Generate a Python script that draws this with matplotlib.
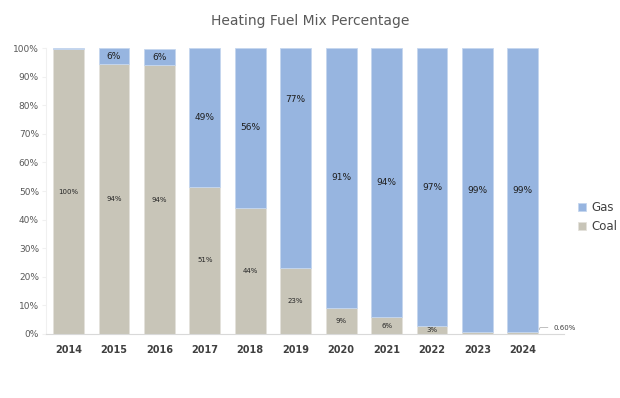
import matplotlib.pyplot as plt
import numpy as np

# Data
years = ['2014', '2015', '2016', '2017', '2018', '2019', '2020', '2021', '2022', '2023', '2024']
coal = [99.6, 94.3, 94.0, 51.4, 44.2, 23.0, 9.2, 5.8, 2.8, 0.6, 0.6]
gas = [0.4, 5.7, 5.8, 48.6, 55.8, 77.0, 90.8, 94.2, 97.2, 99.4, 99.4]
coal_labels = ['100%', '94%', '94%', '51%', '44%', '23%', '9%', '6%', '3%', '', '0.60%']
gas_labels = ['', '6%', '6%', '49%', '56%', '77%', '91%', '94%', '97%', '99%', '99%']

gas_color = '#97b5e0'
coal_color = '#c8c5b8'

fig = plt.figure(figsize=(6.2, 3.98), dpi=100)
ax = fig.add_axes([0.074, 0.161, 0.806, 0.718])

x = np.arange(len(years))
ax.bar(x, coal, width=0.68, color=coal_color, edgecolor='#e4e2db', linewidth=0.6, label='Coal')
ax.bar(x, gas, width=0.68, bottom=coal, color=gas_color, edgecolor='#c5d6ee', linewidth=0.6, label='Gas')

# coal labels (small, centred in segment)
for i, lab in enumerate(coal_labels):
    if lab == '' or i == len(years) - 1:
        continue
    ax.text(x[i], coal[i] / 2, lab, ha='center', va='center', fontsize=5, color='#262626')

# 0.60% label outside with leader line
i = len(years) - 1
ax.annotate(coal_labels[i], xy=(x[i] + 0.34, coal[i]), xytext=(x[i] + 0.92, 2.2),
            fontsize=5, color='#404040', ha='center', va='center',
            arrowprops=dict(arrowstyle='-', color='#a6a6a6', lw=0.5,
                            connectionstyle='angle,angleA=0,angleB=70,rad=0'),
            annotation_clip=False)

# gas labels
for i, lab in enumerate(gas_labels):
    if lab == '':
        continue
    y = coal[i] + gas[i] / 2
    if years[i] == '2019':
        y = 82
    ax.text(x[i], y, lab, ha='center', va='center', fontsize=6.5, color='#1f1f1f')

ax.set_xlim(-0.5, len(years) - 0.5)
ax.set_ylim(0, 100)
ax.set_yticks(range(0, 101, 10))
ax.set_yticklabels([f'{v}%' for v in range(0, 101, 10)], fontsize=6.5, color='#595959')
ax.set_xticks(x)
ax.set_xticklabels(years, fontsize=7, fontweight='bold', color='#404040')
ax.tick_params(axis='x', length=0, pad=8)
ax.tick_params(axis='y', length=3, color='#f0f0f0', pad=2)

for s in ['top', 'right']:
    ax.spines[s].set_visible(False)
ax.spines['left'].set_color('#f0f0f0')
ax.spines['bottom'].set_color('#d9d9d9')
ax.spines['bottom'].set_bounds(-0.5, len(years) - 0.5 + 0.4)

fig.suptitle('Heating Fuel Mix Percentage', x=0.5, y=0.965, fontsize=10, color='#595959')

handles, labels = ax.get_legend_handles_labels()
fig.legend(handles[::-1], labels[::-1], loc='center left', bbox_to_anchor=(0.915, 0.455),
           frameon=False, fontsize=8.5, handlelength=0.7, handleheight=0.7,
           handletextpad=0.4, labelspacing=0.5, labelcolor='#404040')

plt.savefig('out.png', dpi=100)
